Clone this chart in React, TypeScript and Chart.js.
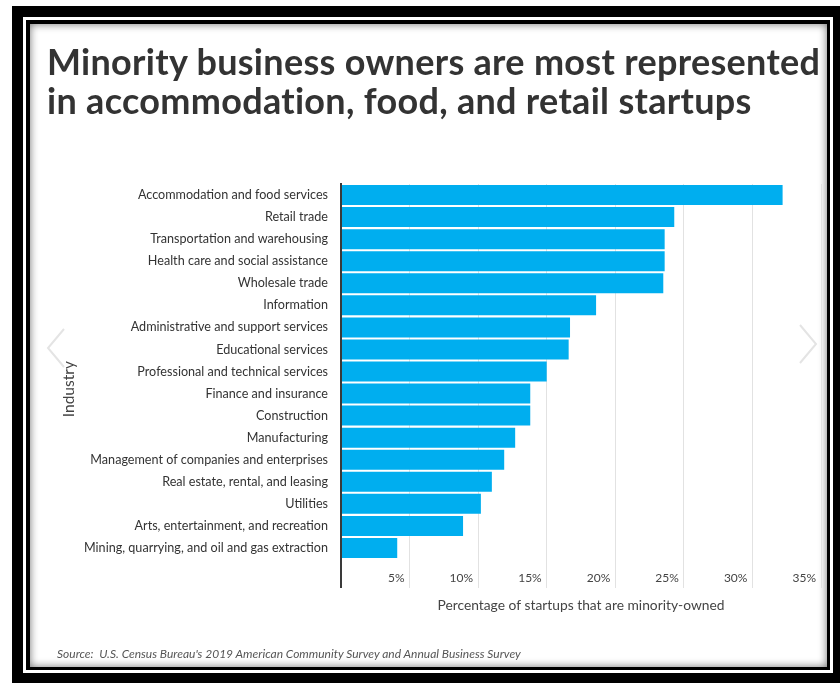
import React, { useEffect, useRef } from "react";
import { Chart, registerables } from "chart.js";

Chart.register(...registerables);

// Industries, top to bottom
const industries = [
  "Accommodation and food services",
  "Retail trade",
  "Transportation and warehousing",
  "Health care and social assistance",
  "Wholesale trade",
  "Information",
  "Administrative and support services",
  "Educational services",
  "Professional and technical services",
  "Finance and insurance",
  "Construction",
  "Manufacturing",
  "Management of companies and enterprises",
  "Real estate, rental, and leasing",
  "Utilities",
  "Arts, entertainment, and recreation",
  "Mining, quarrying, and oil and gas extraction",
];

// Share of startups that are minority-owned (%)
const minorityShare = [
  32.2, 24.3, 23.6, 23.6, 23.5, 18.6, 16.7, 16.6, 15.0, 13.8, 13.8, 12.7, 11.9, 11.0,
  10.2, 8.9, 4.1,
];

// Percentage axis ticks
const percentTicks = [0, 5, 10, 15, 20, 25, 30, 35];

const FONT = "Lato, 'Open Sans', sans-serif";
const BAR_BLUE = "#00aeef";

function Chevron({ left, top, flip }: { left: number; top: number; flip?: boolean }) {
  return (
    <svg
      width={22}
      height={42}
      style={{ position: "absolute", left, top }}
      viewBox="0 0 22 42"
    >
      <polyline
        points={flip ? "3,2 19,21 3,40" : "19,2 3,21 19,40"}
        fill="none"
        stroke="#e4e4e4"
        strokeWidth={2}
      />
    </svg>
  );
}

export default function App() {
  const canvasRef = useRef<HTMLCanvasElement | null>(null);

  useEffect(() => {
    if (!canvasRef.current) return;
    const chart = new Chart(canvasRef.current, {
      type: "bar",
      data: {
        labels: industries,
        datasets: [
          {
            data: minorityShare,
            backgroundColor: BAR_BLUE,
            borderWidth: 0,
            categoryPercentage: 1,
            barPercentage: 0.907,
          },
        ],
      },
      options: {
        indexAxis: "y",
        responsive: false,
        animation: false,
        layout: { padding: { top: 160, right: 6, bottom: 53, left: 0 } },
        plugins: {
          legend: { display: false },
          tooltip: { enabled: false },
        },
        scales: {
          x: {
            type: "linear",
            min: 0,
            max: 35,
            afterBuildTicks: (scale: any) => {
              scale.ticks = percentTicks.map((v) => ({ value: v }));
            },
            afterFit: (scale: any) => {
              scale.height = 55;
            },
            border: { display: false },
            grid: {
              drawTicks: true,
              tickLength: 29,
              color: (ctx: any) => (ctx.tick && ctx.tick.value === 0 ? "#3a3a3a" : "#e2e2e2"),
              tickColor: (ctx: any) =>
                ctx.tick && ctx.tick.value === 0 ? "#3a3a3a" : "#e2e2e2",
              lineWidth: (ctx: any) => (ctx.tick && ctx.tick.value === 0 ? 2 : 1),
            },
            ticks: {
              align: "end",
              padding: -17,
              labelOffset: -5,
              color: "#444",
              font: { family: FONT, size: 12 },
              callback: (v: any) => (Number(v) === 0 ? "" : `${v}%`),
            },
            title: {
              display: true,
              text: "Percentage of startups that are minority-owned",
              color: "#444",
              font: { family: FONT, size: 13.8 },
              padding: { top: 0, bottom: 0 },
            },
          },
          y: {
            type: "category",
            afterFit: (scale: any) => {
              scale.width = 311;
            },
            grid: { display: false, drawTicks: false },
            border: { display: true, color: "#3a3a3a", width: 2 },
            ticks: {
              padding: 13,
              color: "#333",
              font: { family: FONT, size: 12.6 },
              autoSkip: false,
            },
            title: {
              display: true,
              // trailing spaces centre the word on the full axis line, tick extension included
              text: "Industry" + "\u00a0".repeat(9),
              color: "#444",
              font: { family: FONT, size: 15.5 },
              padding: { top: 30, bottom: 0 },
            },
          },
        },
      },
    });
    return () => chart.destroy();
  }, []);

  return (
    <div
      style={{
        position: "absolute",
        left: 0,
        top: 0,
        width: 840,
        height: 683,
        background: "#fff",
        overflow: "hidden",
      }}
    >
      {/* double black frame */}
      <div
        style={{ position: "absolute", left: 12, top: 6, width: 840, height: 677, background: "#000" }}
      />
      <div
        style={{ position: "absolute", left: 23, top: 17, width: 810, height: 656, background: "#fff" }}
      />
      <div
        style={{ position: "absolute", left: 26, top: 20, width: 804, height: 650, background: "#000" }}
      />
      <div
        style={{
          position: "absolute",
          left: 30,
          top: 24,
          width: 797,
          height: 643,
          background: "#fff",
          boxShadow: "inset 0 0 9px rgba(0,0,0,0.55)",
        }}
      >
        <canvas ref={canvasRef} width={797} height={643} style={{ position: "absolute", left: 0, top: 0 }} />
      </div>

      <Chevron left={45} top={327} />
      <Chevron left={797} top={323} flip />

      <div
        style={{
          position: "absolute",
          left: 47,
          top: 41.6,
          fontFamily: FONT,
          fontWeight: 700,
          fontSize: 36,
          letterSpacing: 0.3,
          lineHeight: "39px",
          color: "#333",
          whiteSpace: "nowrap",
        }}
      >
        Minority business owners are most represented
        <br />
        in accommodation, food, and retail startups
      </div>

      <div
        style={{
          position: "absolute",
          left: 57,
          top: 647,
          fontFamily: FONT,
          fontStyle: "italic",
          fontSize: 12,
          lineHeight: "14px",
          color: "#555",
          whiteSpace: "nowrap",
        }}
      >
        Source:&nbsp; U.S. Census Bureau's 2019 American Community Survey and Annual Business Survey
      </div>
    </div>
  );
}
